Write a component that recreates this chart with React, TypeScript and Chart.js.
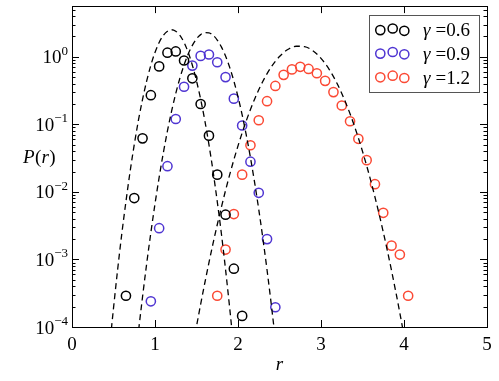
import { useEffect, useRef } from 'react';
import { Chart, registerables } from 'chart.js';
Chart.register(...registerables);

// ---- data ----
const xTicks = [0, 1, 2, 3, 4, 5];
const yExponents = [-4, -3, -2, -1, 0];

const seriesLabels = ['0.6', '0.9', '1.2'];

const blackR = [0.65, 0.75, 0.85, 0.95, 1.05, 1.15, 1.25, 1.35, 1.45, 1.55, 1.65, 1.75, 1.85, 1.95, 2.05];
const blackP = [2.9e-4, 8.1e-3, 0.062, 0.27, 0.72, 1.15, 1.2, 0.88, 0.48, 0.2, 0.068, 0.018, 4.6e-3, 7.3e-4, 1.46e-4];

const blueR = [0.95, 1.05, 1.15, 1.25, 1.35, 1.45, 1.55, 1.65, 1.75, 1.85, 1.95, 2.05, 2.15, 2.25, 2.35, 2.45];
const blueP = [2.4e-4, 2.9e-3, 0.024, 0.12, 0.36, 0.74, 1.03, 1.08, 0.83, 0.5, 0.24, 0.096, 0.028, 9.7e-3, 2.0e-3, 1.96e-4];

const redR = [1.75, 1.85, 1.95, 2.05, 2.15, 2.25, 2.35, 2.45, 2.55, 2.65, 2.75, 2.85, 2.95, 3.05, 3.15, 3.25, 3.35, 3.45, 3.55, 3.65, 3.75, 3.85, 3.95, 4.05];
const redP = [2.9e-4, 1.4e-3, 4.7e-3, 0.018, 0.049, 0.115, 0.22, 0.37, 0.54, 0.65, 0.71, 0.66, 0.57, 0.44, 0.3, 0.19, 0.111, 0.061, 0.0295, 0.013, 4.9e-3, 1.6e-3, 1.18e-3, 2.9e-4];

// dashed reference curves
const blackCurveR = [0.45, 0.5, 0.55, 0.6, 0.65, 0.7, 0.75, 0.8, 0.85, 0.9, 0.95, 1.0, 1.05, 1.1, 1.15, 1.2, 1.25, 1.3, 1.35, 1.4, 1.45, 1.5, 1.55, 1.6, 1.65, 1.7, 1.75, 1.8, 1.85, 1.9, 1.95];
const blackCurveP = [4.7e-5, 1.9e-4, 7.1e-4, 2.4e-3, 7.2e-3, 0.02, 0.05, 0.114, 0.235, 0.44, 0.75, 1.16, 1.63, 2.07, 2.39, 2.51, 2.39, 2.07, 1.63, 1.16, 0.75, 0.44, 0.235, 0.114, 0.05, 0.02, 7.2e-3, 2.4e-3, 7.1e-4, 1.9e-4, 4.7e-5];

const blueCurveR = [0.75, 0.8, 0.85, 0.9, 0.95, 1.0, 1.05, 1.1, 1.15, 1.2, 1.25, 1.3, 1.35, 1.4, 1.45, 1.5, 1.55, 1.6, 1.65, 1.7, 1.75, 1.8, 1.85, 1.9, 1.95, 2.0, 2.05, 2.1, 2.15, 2.2, 2.25, 2.3, 2.35, 2.4, 2.45];
const blueCurveP = [2.3e-5, 8.4e-5, 2.8e-4, 8.7e-4, 2.49e-3, 6.65e-3, 0.0164, 0.0376, 0.0798, 0.157, 0.286, 0.483, 0.757, 1.099, 1.476, 1.841, 2.128, 2.275, 2.259, 2.08, 1.77, 1.4, 1.026, 0.697, 0.438, 0.255, 0.138, 0.069, 0.0321, 0.0138, 5.5e-3, 2.03e-3, 6.97e-4, 2.21e-4, 6.5e-5];

const redCurveR = [1.4, 1.5, 1.6, 1.7, 1.8, 1.9, 2.0, 2.1, 2.2, 2.3, 2.4, 2.5, 2.6, 2.7, 2.8, 2.9, 3.0, 3.1, 3.2, 3.3, 3.4, 3.5, 3.6, 3.7, 3.8, 3.9, 4.0, 4.1];
const redCurveP = [2.05e-5, 1.02e-4, 4.48e-4, 1.74e-3, 5.94e-3, 0.018, 0.048, 0.113, 0.236, 0.434, 0.705, 1.009, 1.279, 1.432, 1.413, 1.233, 0.948, 0.646, 0.388, 0.206, 0.0964, 0.0398, 0.01456, 4.7e-3, 1.34e-3, 3.37e-4, 7.46e-5, 1.47e-5];

const colors = ['#000000', '#4f35d2', '#fb4934'];
const SERIF = '"Liberation Serif", "DejaVu Serif", serif';

const zip = (xs: number[], ys: number[]) => xs.map((x, i) => ({ x, y: ys[i] }));

const decor = {
  id: 'decor',
  afterDraw(chart: any) {
    const { ctx, chartArea: a, scales } = chart;
    const xs = scales.x;
    const ys = scales.y;
    ctx.save();
    const line = (x1: number, y1: number, x2: number, y2: number) => {
      ctx.beginPath();
      ctx.moveTo(x1, y1);
      ctx.lineTo(x2, y2);
      ctx.stroke();
    };
    ctx.strokeStyle = '#000';
    ctx.lineWidth = 1;
    ctx.strokeRect(Math.round(a.left) + 0.5, Math.round(a.top) + 0.5, Math.round(a.right - a.left), Math.round(a.bottom - a.top));

    // y ticks (major + minor, inward, both sides)
    for (const e of yExponents) {
      for (let m = 1; m <= 9; m++) {
        const v = m * Math.pow(10, e);
        if (v < ys.min || v > ys.max) continue;
        const py = Math.round(ys.getPixelForValue(v)) + 0.5;
        const len = m === 1 ? 7 : 3.5;
        line(a.left, py, a.left + len, py);
        line(a.right, py, a.right - len, py);
      }
    }
    // x ticks
    for (const t of xTicks) {
      const px = Math.round(xs.getPixelForValue(t)) + 0.5;
      line(px, a.bottom, px, a.bottom - 7);
      line(px, a.top, px, a.top + 7);
    }

    // y tick labels 10^k
    ctx.fillStyle = '#000';
    ctx.textBaseline = 'alphabetic';
    for (const e of yExponents) {
      const py = ys.getPixelForValue(Math.pow(10, e));
      const exp = e === 0 ? '0' : '\u2212' + Math.abs(e);
      ctx.font = `13px ${SERIF}`;
      const w2 = ctx.measureText(exp).width;
      ctx.font = `19px ${SERIF}`;
      const w1 = ctx.measureText('10').width;
      const right = a.left - 4;
      ctx.fillText('10', right - w2 - w1, py + 6.5);
      ctx.font = `13px ${SERIF}`;
      ctx.fillText(exp, right - w2, py - 2);
    }

    // axis titles
    ctx.font = `italic 19px ${SERIF}`;
    ctx.textAlign = 'center';
    ctx.fillText('r', (a.left + a.right) / 2, 370);
    ctx.textAlign = 'left';
    let tx = 23;
    const ty = 163;
    const parts: [string, boolean][] = [['P', true], ['(', false], ['r', true], [')', false]];
    for (const [s, it] of parts) {
      ctx.font = `${it ? 'italic ' : ''}19px ${SERIF}`;
      ctx.fillText(s, tx, ty);
      tx += ctx.measureText(s).width + (it ? 0.5 : 0);
    }

    // legend
    const bx = 369.5, by = 15.5, bw = 110, bh = 77;
    ctx.fillStyle = '#fff';
    ctx.fillRect(bx, by, bw, bh);
    ctx.strokeStyle = '#555';
    ctx.lineWidth = 1;
    ctx.strokeRect(bx, by, bw, bh);
    const rowY = [29.8, 53.3, 77.0];
    const mx = [380.3, 392.7, 404.3];
    const my = [0.3, -1.3, 1.0];
    seriesLabels.forEach((lab, i) => {
      ctx.strokeStyle = colors[i];
      ctx.lineWidth = 1.5;
      for (let k = 0; k < 3; k++) {
        ctx.beginPath();
        ctx.arc(mx[k], rowY[i] + my[k], 4.6, 0, Math.PI * 2);
        ctx.stroke();
      }
      ctx.fillStyle = '#000';
      ctx.font = `italic 19px ${SERIF}`;
      ctx.fillText('\u03b3', 423, rowY[i] + 6.5);
      const gw = ctx.measureText('\u03b3').width;
      ctx.font = `19px ${SERIF}`;
      ctx.fillText('=' + lab, 423 + gw + 5, rowY[i] + 6.5);
    });
    ctx.restore();
  },
};

export default function App() {
  const ref = useRef<HTMLCanvasElement>(null);
  useEffect(() => {
    if (!ref.current) return;
    const curve = (xs: number[], ys: number[]) => ({
      data: zip(xs, ys),
      showLine: true,
      borderColor: '#000',
      borderWidth: 1.3,
      borderDash: [6, 4],
      pointRadius: 0,
      cubicInterpolationMode: 'monotone' as const,
      fill: false,
    });
    const pts = (xs: number[], ys: number[], c: string) => ({
      data: zip(xs, ys),
      showLine: false,
      pointRadius: 4.6,
      pointBorderWidth: 1.5,
      pointBorderColor: c,
      pointBackgroundColor: 'rgba(0,0,0,0)',
      borderColor: c,
      backgroundColor: 'rgba(0,0,0,0)',
    });
    const chart = new Chart(ref.current, {
      type: 'scatter',
      data: {
        datasets: [
          curve(blackCurveR, blackCurveP),
          curve(blueCurveR, blueCurveP),
          curve(redCurveR, redCurveP),
          pts(blackR, blackP, colors[0]),
          pts(blueR, blueP, colors[1]),
          pts(redR, redP, colors[2]),
        ] as any,
      },
      options: {
        responsive: false,
        animation: false,
        events: [],
        layout: { padding: { left: 0, top: 6, right: 12, bottom: 0 } },
        plugins: { legend: { display: false }, tooltip: { enabled: false } },
        scales: {
          x: {
            type: 'linear',
            min: 0,
            max: 5,
            afterFit: (s: any) => { s.height = 54; },
            afterBuildTicks: (s: any) => { s.ticks = xTicks.map((v) => ({ value: v })); },
            grid: { display: false, drawTicks: false },
            border: { display: false },
            ticks: {
              color: '#000',
              padding: 7,
              maxRotation: 0,
              font: { family: SERIF, size: 19 },
              callback: (v: any) => String(v),
            },
          },
          y: {
            type: 'logarithmic',
            min: 1e-4,
            max: Math.pow(10, 0.75),
            afterFit: (s: any) => { s.width = 72; },
            grid: { display: false, drawTicks: false },
            border: { display: false },
            ticks: { display: false },
          },
        },
      },
      plugins: [decor],
    });
    return () => chart.destroy();
  }, []);
  return (
    <div style={{ position: 'absolute', left: 0, top: 0, width: 499, height: 381, background: '#fff' }}>
      <canvas ref={ref} width={499} height={381} style={{ display: 'block' }} />
    </div>
  );
}
